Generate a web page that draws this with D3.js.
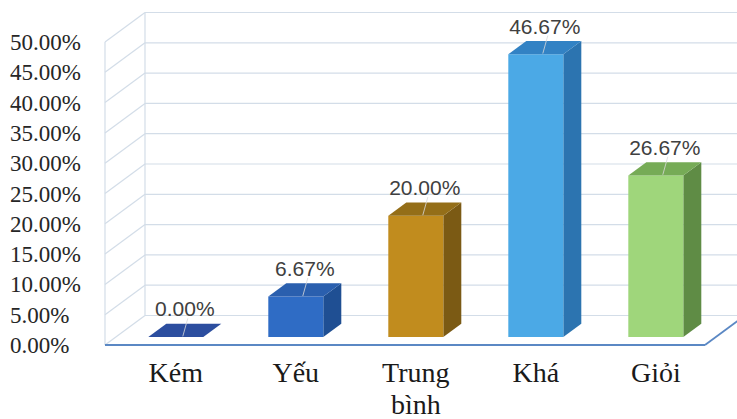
<!DOCTYPE html>
<html>
<head>
<meta charset="utf-8">
<script src="https://cdn.jsdelivr.net/npm/d3@7"></script>
<style>
  html, body { margin: 0; padding: 0; background: #ffffff; }
  svg { display: block; }
</style>
</head>
<body>
<svg id="chart" width="737" height="419"></svg>
<script>
// Xếp loại học sinh (%)
const categories = ["Kém", "Yếu", "Trung bình", "Khá", "Giỏi"];
const values = [0.00, 6.67, 20.00, 46.67, 26.67];
const tickValues = [0, 5, 10, 15, 20, 25, 30, 35, 40, 45, 50];

// Face colours per column: front, side, top
const palette = [
  { front: "#2b4c9b", side: "#1e3872", top: "#2c4e9f" },
  { front: "#2f6cc5", side: "#1f4f93", top: "#2a5fae" },
  { front: "#c18c1e", side: "#7b5a14", top: "#946e18" },
  { front: "#4ba9e6", side: "#2c74b0", top: "#3282c4" },
  { front: "#9fd67b", side: "#5f8c45", top: "#76ab56" }
];

const svg = d3.select("#chart");

// Oblique projection for the 3-D box: depth z in [0, 1]
const DX = 40, DY = 29.5;
const Z0 = 0.27, Z1 = 0.72;   // column occupies this slice of the depth

const x = d3.scaleBand()
  .domain(categories)
  .range([105, 705])
  .paddingInner(0.5417)
  .paddingOuter(0.2708);

const y = d3.scaleLinear().domain([0, 50]).range([345, 42]);

const P = (px, v, z) => [px + z * DX, y(v) - z * DY];
const poly = pts => "M" + pts.map(p => p.join(",")).join("L") + "Z";

const fmt = v => d3.format(".2f")(v) + "%";

// ---- walls and floor ----
const grid = svg.append("g")
  .attr("fill", "none")
  .attr("stroke", "#d3dde8")
  .attr("stroke-width", 1.2);

const xStart = x.range()[0], xEnd = x.range()[1];

// back-wall gridlines
grid.selectAll("line.back")
  .data(tickValues)
  .join("line")
  .attr("class", "back")
  .attr("x1", d => P(xStart, d, 1)[0])
  .attr("y1", d => P(xStart, d, 1)[1])
  .attr("x2", d => P(xEnd, d, 1)[0])
  .attr("y2", d => P(xEnd, d, 1)[1]);

// side-wall diagonals
grid.selectAll("line.side")
  .data(tickValues)
  .join("line")
  .attr("class", "side")
  .attr("x1", d => P(xStart, d, 0)[0])
  .attr("y1", d => P(xStart, d, 0)[1])
  .attr("x2", d => P(xStart, d, 1)[0])
  .attr("y2", d => P(xStart, d, 1)[1]);

// wall edges
const maxTick = tickValues[tickValues.length - 1];
grid.append("line")
  .attr("x1", P(xStart, 0, 0)[0]).attr("y1", P(xStart, 0, 0)[1])
  .attr("x2", P(xStart, maxTick, 0)[0]).attr("y2", P(xStart, maxTick, 0)[1]);
grid.append("line")
  .attr("x1", P(xStart, 0, 1)[0]).attr("y1", P(xStart, 0, 1)[1])
  .attr("x2", P(xStart, maxTick, 1)[0]).attr("y2", P(xStart, maxTick, 1)[1]);

// floor outline: front edge in the axis colour, right edge going back
const floor = svg.append("g").attr("fill", "none").attr("stroke", "#5b88c4").attr("stroke-width", 1.8);
floor.append("line")
  .attr("x1", P(xStart, 0, 0)[0]).attr("y1", P(xStart, 0, 0)[1])
  .attr("x2", P(xEnd, 0, 0)[0]).attr("y2", P(xEnd, 0, 0)[1]);
floor.append("line")
  .attr("x1", P(xEnd, 0, 0)[0]).attr("y1", P(xEnd, 0, 0)[1])
  .attr("x2", P(xEnd, 0, 1)[0]).attr("y2", P(xEnd, 0, 1)[1]);

// ---- y-axis tick labels ----
svg.append("g")
  .selectAll("text")
  .data(tickValues)
  .join("text")
  .attr("x", 10)
  .attr("y", d => y(d))
  .attr("dy", "0.35em")
  .attr("font-family", "'Liberation Serif', 'Times New Roman', serif")
  .attr("font-size", 23)
  .attr("fill", "#262626")
  .text(d => fmt(d));

// ---- columns ----
const bars = svg.append("g")
  .selectAll("g")
  .data(categories.map((c, i) => ({ c, v: values[i], col: palette[i] })))
  .join("g");

const bw = x.bandwidth();

bars.append("path") // side face
  .attr("d", d => {
    const xr = x(d.c) + bw;
    return poly([P(xr, 0, Z0), P(xr, 0, Z1), P(xr, d.v, Z1), P(xr, d.v, Z0)]);
  })
  .attr("fill", d => d.col.side);

bars.append("path") // front face
  .attr("d", d => {
    const xl = x(d.c), xr = xl + bw;
    return poly([P(xl, 0, Z0), P(xr, 0, Z0), P(xr, d.v, Z0), P(xl, d.v, Z0)]);
  })
  .attr("fill", d => d.col.front);

bars.append("path") // top face
  .attr("d", d => {
    const xl = x(d.c), xr = xl + bw;
    return poly([P(xl, d.v, Z0), P(xr, d.v, Z0), P(xr, d.v, Z1), P(xl, d.v, Z1)]);
  })
  .attr("fill", d => d.col.top);

// ---- value labels with short leader lines ----
const zm = (Z0 + Z1) / 2;
bars.append("line")
  .attr("x1", d => P(x(d.c) + bw / 2, d.v, zm)[0] + 3)
  .attr("y1", d => P(x(d.c) + bw / 2, d.v, zm)[1] - 12)
  .attr("x2", d => P(x(d.c) + bw / 2, d.v, zm)[0] - 2)
  .attr("y2", d => P(x(d.c) + bw / 2, d.v, zm)[1] + 6)
  .attr("stroke", "#d9d9d9")
  .attr("stroke-opacity", 0.8)
  .attr("stroke-width", 1);

bars.append("text")
  .attr("x", d => P(x(d.c) + bw / 2, d.v, zm)[0])
  .attr("y", d => P(x(d.c) + bw / 2, d.v, zm)[1] - 14)
  .attr("text-anchor", "middle")
  .attr("font-family", "'Liberation Sans', Arial, sans-serif")
  .attr("font-size", 21)
  .attr("fill", "#404040")
  .text(d => fmt(d.v));

// ---- category labels (wrapped at spaces) ----
svg.append("g")
  .selectAll("text")
  .data(categories)
  .join("text")
  .attr("x", d => P(x(d) + bw / 2, 0, Z0)[0])
  .attr("y", 382)
  .attr("text-anchor", "middle")
  .attr("font-family", "'Liberation Serif', 'Times New Roman', serif")
  .attr("font-size", 28)
  .attr("fill", "#1a1a1a")
  .each(function (d) {
    const t = d3.select(this);
    const cx = t.attr("x");
    d.split(" ").forEach((w, i) => {
      t.append("tspan").attr("x", cx).attr("dy", i === 0 ? 0 : 32).text(w);
    });
  });
</script>
</body>
</html>
